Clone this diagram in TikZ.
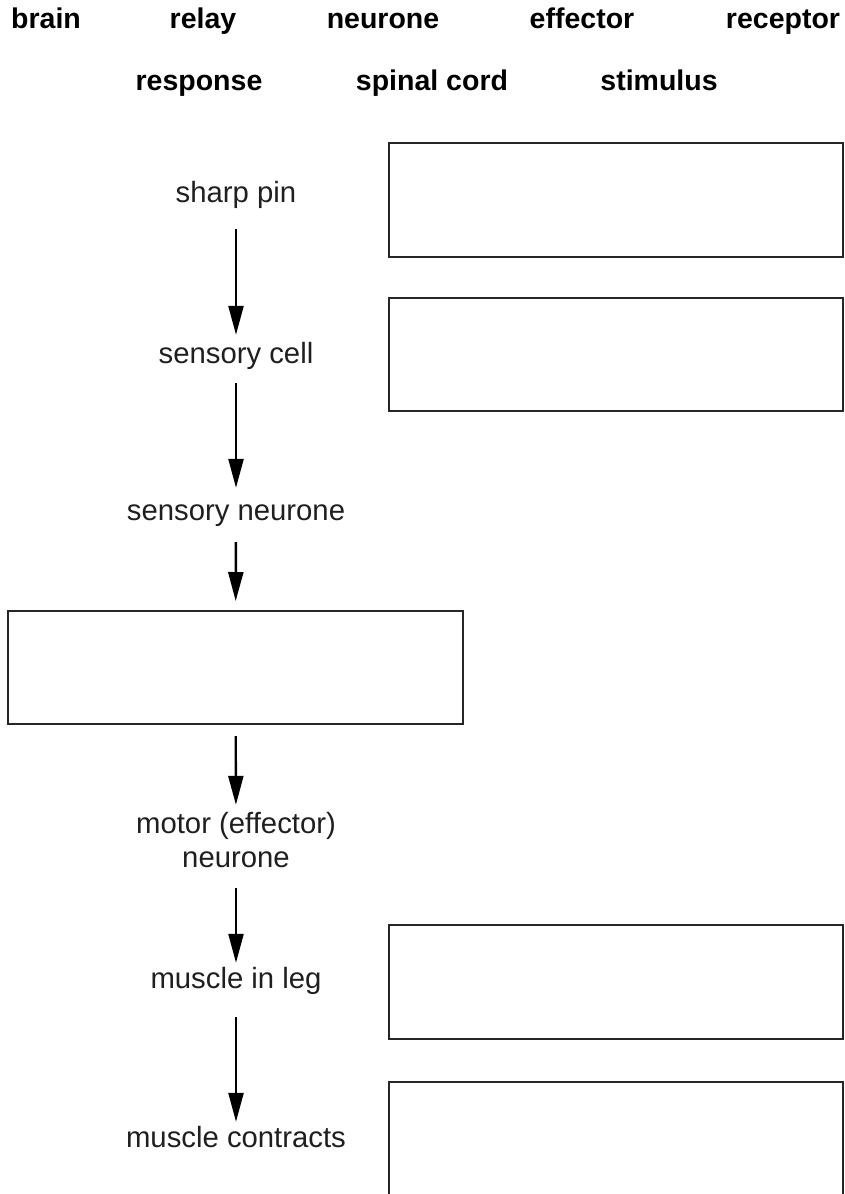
\documentclass[tikz,border=0pt]{standalone}
\usepackage{fontspec}
\setmainfont{Liberation Sans}
\usetikzlibrary{arrows.meta}
\tikzset{
  wordlabel/.style={anchor=base, inner sep=0pt, font=\fontsize{28.5}{34}\selectfont\bfseries},
  steplabel/.style={anchor=base, inner sep=0pt, text height=21pt, text depth=6pt, text=black!88, font=\fontsize{29.3}{35}\selectfont},
  answerbox/.style={draw=black!85, line width=1.1pt, outer sep=0pt, inner sep=0pt, minimum width=454pt, minimum height=114pt},
  flowarrow/.style={line width=2.4pt, -{Triangle[width=15pt,length=29pt]}}
}
\begin{document}
\begin{tikzpicture}[x=1pt,y=1pt,yscale=-1,xscale=1]
\useasboundingbox (0,0) rectangle (845,1194);

% Word bank
\node [wordlabel] (brain) at (46,28) {brain};
\node [wordlabel] (relay) at (203,28) {relay};
\node [wordlabel] (neurone) at (383,28) {neurone};
\node [wordlabel] (effector) at (582,28) {effector};
\node [wordlabel] (receptor) at (783,28) {receptor};
\node [wordlabel] (response) at (199,90) {response};
\node [wordlabel] (spinal) at (432,90) {spinal cord};
\node [wordlabel] (stimulus) at (659,90) {stimulus};

% Text Node
\node [steplabel] (pin) at (236,202) {sharp pin};
% Text Node
\node [steplabel] (cell) at (236,363) {sensory cell};
% Text Node
\node [steplabel] (sensory) at (236,520) {sensory neurone};
% Text Node
\node [steplabel] (motor) at (236,833) {motor (effector)};
\node [steplabel] (motorb) at (236,867) {neurone};
% Text Node
\node [steplabel] (leg) at (236,988) {muscle in leg};
% Text Node
\node [steplabel] (contracts) at (236,1147) {muscle contracts};

%Shape: Rectangle
\node [answerbox] (boxpin) at (616,200) {};
%Shape: Rectangle
\node [answerbox, minimum height=113pt] (boxcell) at (616,354.5) {};
%Shape: Rectangle
\node [answerbox, minimum width=455pt, minimum height=113pt] (boxcord) at (235.5,667.5) {};
%Shape: Rectangle
\node [answerbox] (boxleg) at (616,982) {};
%Shape: Rectangle (runs off the page)
\node [answerbox, minimum height=120pt] (boxresp) at (616,1142) {};

%Straight Lines
\draw [flowarrow, shorten <=21pt, shorten >=7pt] (pin) -- (cell);
%Straight Lines
\draw [flowarrow, shorten <=14pt, shorten >=11pt] (cell) -- (sensory);
%Straight Lines
\draw [flowarrow, shorten <=16pt, shorten >=10pt] (sensory) -- (boxcord);
%Straight Lines
\draw [flowarrow, shorten <=12pt, shorten >=7pt] (boxcord) -- (motor);
%Straight Lines
\draw [flowarrow, shorten <=15pt, shorten >=4pt] (motorb) -- (leg);
%Straight Lines
\draw [flowarrow, shorten <=23pt, shorten >=4pt] (leg) -- (contracts);

\end{tikzpicture}
\end{document}
